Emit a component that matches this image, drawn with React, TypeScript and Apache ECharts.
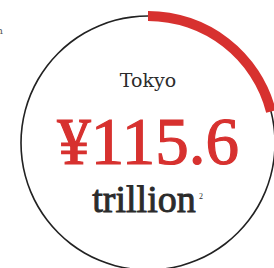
import React, { useEffect, useRef } from "react";
import * as echarts from "echarts";

const cityNames = ["Tokyo"];
const gdpValues = [115.6];
const shareOfNation = [21];
const unitLabels = ["trillion"];

export default function App() {
  const ref = useRef<HTMLDivElement>(null);
  useEffect(() => {
    if (!ref.current) return;
    const chart = echarts.init(ref.current, undefined, { renderer: "svg" });
    const share = shareOfNation[0];
    chart.setOption({
      animation: false,
      backgroundColor: "#ffffff",
      series: [
        {
          type: "pie",
          center: [148, 143],
          radius: [126.2, 127.8],
          silent: true,
          label: { show: false },
          labelLine: { show: false },
          itemStyle: { color: "#222222", borderWidth: 0 },
          data: [{ value: 100, name: "ring" }],
          z: 1,
        },
        {
          type: "pie",
          center: [148, 143],
          radius: [122, 132],
          startAngle: 90,
          clockwise: true,
          silent: true,
          label: { show: false },
          labelLine: { show: false },
          itemStyle: { borderWidth: 0 },
          data: [
            { value: share, name: "share", itemStyle: { color: "#d7312f" } },
            { value: 100 - share, name: "rest", itemStyle: { color: "rgba(0,0,0,0)" } },
          ],
          z: 2,
        },
      ],
      graphic: [
        {
          type: "text",
          x: 3,
          y: 25,
          style: { text: "n", fill: "#555", font: "10px 'DejaVu Serif'", align: "right" },
        },
        {
          type: "text",
          x: 148,
          y: 89,
          style: {
            text: cityNames[0],
            fill: "#2b2b2b",
            font: "19px 'DejaVu Serif'",
            align: "center",
            verticalAlign: "bottom",
          },
        },
        {
          type: "text",
          x: 148,
          y: 174,
          style: {
            text: "¥" + gdpValues[0].toFixed(1),
            fill: "#d7312f",
            stroke: "#d7312f",
            lineWidth: 1.2,
            font: "67px 'Liberation Serif'",
            align: "center",
            verticalAlign: "bottom",
          },
        },
        {
          type: "text",
          x: 144,
          y: 218,
          style: {
            text: unitLabels[0],
            fill: "#2b2b2b",
            stroke: "#2b2b2b",
            lineWidth: 0.9,
            font: "38px 'Liberation Serif'",
            align: "center",
            verticalAlign: "bottom",
          },
        },
        {
          type: "text",
          x: 199,
          y: 200,
          style: {
            text: "2",
            fill: "#2b2b2b",
            font: "8px 'Liberation Serif'",
            align: "left",
            verticalAlign: "bottom",
          },
        },
      ],
    });
    return () => chart.dispose();
  }, []);
  return (
    <div
      ref={ref}
      style={{ position: "fixed", left: 0, top: 0, width: 274, height: 268 }}
    />
  );
}
